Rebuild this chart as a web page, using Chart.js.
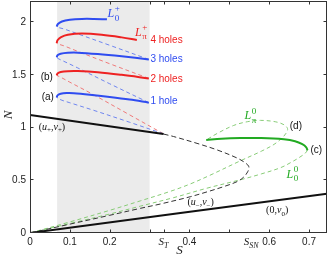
<!DOCTYPE html>
<html><head><meta charset="utf-8">
<script src="https://cdn.jsdelivr.net/npm/chart.js@4"></script>
<style>html,body{margin:0;padding:0;background:#fff;overflow:hidden}#wrap{width:329px;height:257px}</style>
</head><body><div id="wrap"><canvas id="c" width="329" height="257"></canvas></div>
<script>
// ---------- data (S, N) ----------
const xTicks = [0, 0.1, 0.2, 0.3, 0.335, 0.4, 0.5, 0.6, 0.7];
const xTickLabels = ['0', '0.1', '0.2', '', '', '0.4', '', '0.6', '0.7'];
const yTicks = [0, 0.5, 1, 1.5, 2];
const yTickLabels = ['0', '0.5', '1', '1.5', '2'];
const bandRange = [0.068, 0.3];
const sT = 0.335, sSN = 0.555;

// blue snake (L0+)
const blueLower = [[0.335,0.94],[0.25,1.05],[0.16,1.163],[0.1,1.235],[0.078,1.262],[0.067,1.285]];
const blue1Hole = [[0.067,1.285],[0.069,1.305],[0.077,1.32],[0.092,1.327],[0.11,1.326],[0.15,1.312],[0.2,1.29],[0.25,1.265],[0.298,1.236]];
const blueDash13 = [[0.298,1.236],[0.2,1.415],[0.12,1.565],[0.085,1.628],[0.07,1.655],[0.067,1.665]];
const blue3Holes = [[0.067,1.665],[0.069,1.685],[0.077,1.7],[0.095,1.709],[0.12,1.71],[0.17,1.697],[0.23,1.675],[0.298,1.646]];
const blueDash3L = [[0.298,1.646],[0.2,1.78],[0.12,1.888],[0.085,1.935],[0.07,1.95],[0.067,1.957]];
const blueL0Plus = [[0.067,1.957],[0.07,1.982],[0.08,2.006],[0.1,2.022],[0.13,2.03],[0.16,2.03],[0.193,2.026]];

// red snake (Lpi+)
const redLower = [[0.335,0.94],[0.25,1.12],[0.16,1.31],[0.1,1.43],[0.078,1.475],[0.067,1.495]];
const red2Holes = [[0.067,1.495],[0.069,1.513],[0.077,1.527],[0.095,1.535],[0.12,1.536],[0.17,1.525],[0.23,1.5],[0.298,1.466]];
const redDash24 = [[0.298,1.466],[0.2,1.605],[0.12,1.722],[0.085,1.775],[0.07,1.793],[0.067,1.8]];
const red4Holes = [[0.067,1.8],[0.069,1.828],[0.078,1.858],[0.095,1.88],[0.13,1.891],[0.18,1.88],[0.23,1.855],[0.268,1.83]];

// uniform states
const upperUniform = [[0,1.12],[0.335,0.938]];
const middleUniform = [[0.335,0.938],[0.36,0.915],[0.419,0.85],[0.47,0.787],[0.52,0.71],[0.54,0.665],[0.549,0.628],[0.546,0.58],[0.536,0.53],[0.52,0.488],[0.486,0.44],[0.444,0.39],[0.402,0.344],[0.327,0.275],[0.277,0.234],[0.2,0.168],[0.1,0.084],[0,0]];
const lowerUniform = [[0,0],[0.745,0.3725]];

// green branches
const greenSolid = [[0.442,0.882],[0.48,0.894],[0.528,0.9],[0.58,0.9],[0.637,0.888],[0.665,0.87],[0.683,0.842],[0.693,0.812],[0.696,0.784]];
const greenL00 = [[0.696,0.784],[0.69,0.755],[0.675,0.715],[0.655,0.67],[0.629,0.62],[0.58,0.56],[0.528,0.505],[0.444,0.425],[0.36,0.335],[0.277,0.255],[0.2,0.18],[0.1,0.09],[0,0]];
const greenLpi0 = [[0,0],[0.1,0.105],[0.2,0.215],[0.277,0.305],[0.352,0.395],[0.402,0.465],[0.45,0.545],[0.528,0.685],[0.58,0.775],[0.612,0.84],[0.632,0.9],[0.643,0.95],[0.646,0.99],[0.637,1.027],[0.615,1.055],[0.578,1.068],[0.545,1.055],[0.511,1.02],[0.47,0.945],[0.442,0.882]];

// ---------- styling ----------
const BLUE = '#2f4cf0', BLUE_D = '#6f86f0';
const RED = '#ee2222', RED_D = '#f07a7a';
const GREEN = '#22aa22', GREEN_D = '#88cc77';
const toXY = a => a.map(([x, y]) => ({x, y}));
function solid(d, c, w) { return {data: toXY(d), showLine: true, borderColor: c, borderWidth: w || 2, pointRadius: 0, tension: 0.35, fill: false, order: 1}; }
function dashed(d, c, dash, w) { return {data: toXY(d), showLine: true, borderColor: c, borderWidth: w || 1, borderDash: dash || [4, 3], pointRadius: 0, tension: 0.35, fill: false, order: 2}; }

const datasets = [
  solid(upperUniform, '#111', 2),
  solid(lowerUniform, '#111', 2),
  solid(blue1Hole, BLUE), solid(blue3Holes, BLUE), solid(blueL0Plus, BLUE),
  solid(red2Holes, RED), solid(red4Holes, RED),
  solid(greenSolid, GREEN),
  dashed(middleUniform, '#333', [5, 3], 1),
  dashed(blueLower, BLUE_D), dashed(blueDash13, BLUE_D), dashed(blueDash3L, BLUE_D),
  dashed(redLower, RED_D), dashed(redDash24, RED_D),
  dashed(greenL00, GREEN_D), dashed(greenLpi0, GREEN_D)
];

// ---------- text helpers ----------
function drawRich(ctx, segs, x, yMid, size, color, align) {
  const main = it => (it ? 'italic ' : '') + size + 'px "Liberation Serif"';
  const small = it => (it ? 'italic ' : '') + Math.round(size * 0.72) + 'px "Liberation Serif"';
  let w = 0; const items = [];
  for (const [t, st] of segs) {
    if (st === 'i' || st === 'n') {
      ctx.font = main(st === 'i'); const mw = ctx.measureText(t).width;
      items.push({t, font: ctx.font, dx: w, dy: 0}); w += mw;
    } else if (st === 'b' || st === 'bi' || st === 'p') {
      ctx.font = small(st === 'bi'); const mw = ctx.measureText(t).width;
      items.push({t, font: ctx.font, dx: w, dy: st === 'p' ? -size * 0.42 : size * 0.28}); w += mw;
    } else if (st === 'bp') {
      const [a, b] = t.split('|'); ctx.font = small(false);
      const wa = ctx.measureText(a).width, wb = ctx.measureText(b).width;
      items.push({t: a, font: ctx.font, dx: w + 0.5, dy: size * 0.32});
      items.push({t: b, font: ctx.font, dx: w + 0.5, dy: -size * 0.48});
      w += Math.max(wa, wb) + 0.5;
    }
  }
  const x0 = align === 'center' ? x - w / 2 : align === 'right' ? x - w : x;
  const base = yMid + size * 0.33;
  ctx.fillStyle = color; ctx.textAlign = 'left'; ctx.textBaseline = 'alphabetic';
  for (const it of items) { ctx.font = it.font; ctx.fillText(it.t, x0 + it.dx, base + it.dy); }
}

const plainLabels = [
  {t: '4 holes', s: 0.302, n: 1.827, c: RED},
  {t: '3 holes', s: 0.302, n: 1.652, c: BLUE},
  {t: '2 holes', s: 0.302, n: 1.457, c: RED},
  {t: '1 hole', s: 0.302, n: 1.248, c: BLUE},
  {t: '(b)', s: 0.042, n: 1.473, c: '#111', center: true},
  {t: '(a)', s: 0.0445, n: 1.283, c: '#111', center: true},
  {t: '(d)', s: 0.667, n: 1.011, c: '#111', center: true},
  {t: '(c)', s: 0.718, n: 0.784, c: '#111', center: true}
];
const richLabels = [
  {segs: [['L','i'],['0|+','bp']], s: 0.21, n: 2.085, c: BLUE, size: 12},
  {segs: [['L','i'],['π|+','bp']], s: 0.279, n: 1.91, c: RED, size: 12},
  {segs: [['L','i'],['π|0','bp']], s: 0.553, n: 1.116, c: GREEN, size: 12},
  {segs: [['L','i'],['0|0','bp']], s: 0.658, n: 0.563, c: GREEN, size: 12},
  {segs: [['(','n'],['u','i'],['+','b'],[',','n'],['v','i'],['+','b'],[')','n']], s: 0.055, n: 1.011, c: '#111', size: 10},
  {segs: [['(','n'],['u','i'],['−','b'],[',','n'],['v','i'],['−','b'],[')','n']], s: 0.428, n: 0.294, c: '#111', size: 10},
  {segs: [['(0,','n'],['v','i'],['0','b'],[')','n']], s: 0.62, n: 0.222, c: '#111', size: 10}
];

const decor = {
  id: 'decor',
  beforeDatasetsDraw(chart) {
    const {ctx, chartArea: a, scales: {x}} = chart;
    ctx.save();
    ctx.fillStyle = '#ebebeb';
    const x1 = x.getPixelForValue(bandRange[0]), x2 = x.getPixelForValue(bandRange[1]);
    ctx.fillRect(x1, a.top, x2 - x1, a.bottom - a.top);
    ctx.restore();
  },
  afterDraw(chart) {
    const {ctx, chartArea: a, scales: {x, y}} = chart;
    ctx.save();
    // frame
    ctx.strokeStyle = '#333'; ctx.lineWidth = 1;
    ctx.strokeRect(Math.round(a.left) + 0.5, Math.round(a.top) + 0.5, Math.round(a.right - a.left) - 1, Math.round(a.bottom - a.top) - 1);
    // ticks
    ctx.beginPath();
    const L = 3.5;
    xTicks.forEach(v => {
      const px = Math.round(x.getPixelForValue(v)) + 0.5;
      ctx.moveTo(px, a.bottom); ctx.lineTo(px, a.bottom - L);
      ctx.moveTo(px, a.top); ctx.lineTo(px, a.top + L);
    });
    yTicks.forEach(v => {
      const py = Math.round(y.getPixelForValue(v)) - 0.5;
      ctx.moveTo(a.left, py); ctx.lineTo(a.left + L, py);
      ctx.moveTo(a.right, py); ctx.lineTo(a.right - L, py);
    });
    ctx.stroke();
    // tick labels
    ctx.fillStyle = '#222'; ctx.font = '10px "Liberation Sans"';
    ctx.textAlign = 'center'; ctx.textBaseline = 'middle';
    xTicks.forEach((v, i) => { if (xTickLabels[i]) ctx.fillText(xTickLabels[i], x.getPixelForValue(v), a.bottom + 9); });
    ctx.textAlign = 'right';
    yTicks.forEach((v, i) => ctx.fillText(yTickLabels[i], a.left - 4, y.getPixelForValue(v)));
    drawRich(ctx, [['S','i'],['T','bi']], x.getPixelForValue(sT), a.bottom + 8, 11, '#222', 'center');
    drawRich(ctx, [['S','i'],['SN','bi']], x.getPixelForValue(sSN), a.bottom + 8, 11, '#222', 'center');
    drawRich(ctx, [['S','i']], x.getPixelForValue(0.375), a.bottom + 17, 13, '#222', 'center');
    // N label rotated
    ctx.save();
    ctx.translate(8, y.getPixelForValue(1.12));
    ctx.rotate(-Math.PI / 2);
    drawRich(ctx, [['N','i']], 0, 0, 13, '#222', 'center');
    ctx.restore();
    // annotation labels
    ctx.font = '10px "Liberation Sans"'; ctx.textBaseline = 'middle';
    plainLabels.forEach(l => {
      ctx.fillStyle = l.c; ctx.textAlign = l.center ? 'center' : 'left';
      ctx.fillText(l.t, x.getPixelForValue(l.s), y.getPixelForValue(l.n));
    });
    richLabels.forEach(l => drawRich(ctx, l.segs, x.getPixelForValue(l.s), y.getPixelForValue(l.n), l.size, l.c, 'center'));
    ctx.restore();
  }
};

new Chart(document.getElementById('c'), {
  type: 'scatter',
  data: {datasets},
  options: {
    responsive: false, animation: false, devicePixelRatio: 1,
    layout: {padding: {left: 30, right: 2, top: 1, bottom: 24}},
    plugins: {legend: {display: false}, tooltip: {enabled: false}},
    scales: {
      x: {type: 'linear', min: 0, max: 0.745, display: false},
      y: {type: 'linear', min: 0, max: 2.2, display: false}
    }
  },
  plugins: [decor]
});
</script></body></html>
